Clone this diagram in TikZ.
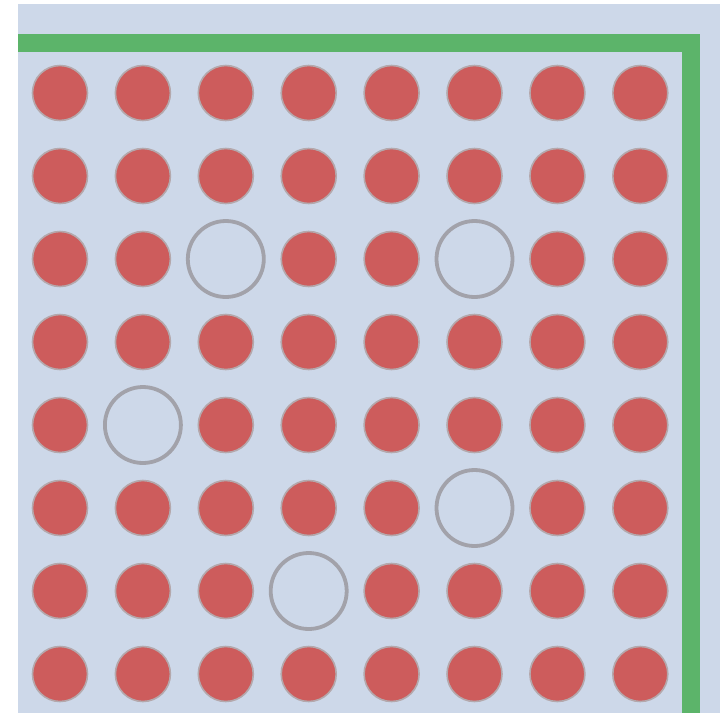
\documentclass[tikz,border=0pt]{standalone}
\definecolor{panelbg}{HTML}{CDD8E9}
\definecolor{wallgreen}{HTML}{5CB46A}
\definecolor{pinred}{HTML}{CD5C5C}
\definecolor{pinrim}{HTML}{B4A8AC}
\definecolor{ringgrey}{HTML}{A2A2AA}
\tikzset{
  pin/.style={circle, fill=pinred, draw=pinrim, line width=1.6pt, minimum size=55pt, inner sep=0pt},
  hole/.style={circle, draw=ringgrey, line width=3.8pt, minimum size=76pt, inner sep=0pt},
  wall/.style={draw=wallgreen, line width=18pt}
}
\begin{document}
\begin{tikzpicture}[x=1pt,y=-1pt]
\useasboundingbox (0,0) rectangle (720,713);
\fill[white] (0,0) rectangle (720,713);
\fill[panelbg] (18,4) rectangle (720,713);
\coordinate (wA) at (18,43);
\coordinate (wB) at (690.5,43);
\coordinate (wC) at (690.5,713);
\draw[wall] (wA) -- (wB) -- (wC);
\foreach \r in {0,...,7}{
  \foreach \c in {0,...,7}{
    \pgfmathtruncatemacro{\id}{\r*10+\c}
    \ifnum\id=22 \node[hole] (h\r\c) at (60+\c*82.9, 93+\r*83) {};
    \else\ifnum\id=25 \node[hole] (h\r\c) at (60+\c*82.9, 93+\r*83) {};
    \else\ifnum\id=41 \node[hole] (h\r\c) at (60+\c*82.9, 93+\r*83) {};
    \else\ifnum\id=55 \node[hole] (h\r\c) at (60+\c*82.9, 93+\r*83) {};
    \else\ifnum\id=63 \node[hole] (h\r\c) at (60+\c*82.9, 93+\r*83) {};
    \else \node[pin] (p\r\c) at (60+\c*82.9, 93+\r*83) {};
    \fi\fi\fi\fi\fi
  }
}
\end{tikzpicture}
\end{document}
